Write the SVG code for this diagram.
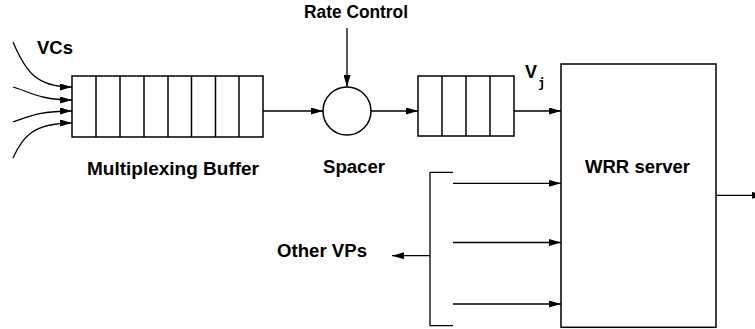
<svg xmlns="http://www.w3.org/2000/svg" width="755" height="329" viewBox="0 0 755 329">
<style>
  .box{fill:#fff;stroke:#000;stroke-width:1.5}
  .div{stroke:#000;stroke-width:1.5}
  .ln{fill:none;stroke:#000;stroke-width:1.3}
  .arr{fill:none;stroke:#000;stroke-width:1.3;marker-end:url(#ah)}
  .lbl{font-family:"Liberation Sans",Arial,Helvetica,sans-serif;font-weight:bold;font-size:18px;fill:#000}
  .sub{font-family:"DejaVu Sans Mono","Liberation Mono",monospace;font-weight:bold;font-size:12px;fill:#000}
</style>
<defs>
  <marker id="ah" markerUnits="userSpaceOnUse" markerWidth="12" markerHeight="7" refX="12" refY="3.5" orient="auto">
    <path d="M0,0 L12,3.5 L0,7 z" fill="#000"/>
  </marker>
</defs>
<rect width="755" height="329" fill="#fff"/>

<g id="connectors">
  <path class="arr" d="M13,42 C25,70 35,87 72,87"/>
  <path class="arr" d="M13,87 C30,92 40,100 72,100"/>
  <path class="arr" d="M13,122 C30,116 40,111 72,111"/>
  <path class="arr" d="M13,158 C22,138 32,123 72,123"/>
  <line class="arr" x1="263" y1="111" x2="323" y2="111"/>
  <line class="arr" x1="347" y1="28" x2="347" y2="87"/>
  <line class="arr" x1="371" y1="111" x2="418" y2="111"/>
  <line class="arr" x1="514" y1="111" x2="561" y2="111"/>
  <polyline class="ln" points="453,172.3 430,172.3 430,325.7 453,325.7"/>
  <line class="arr" x1="453" y1="183.3" x2="561" y2="183.3"/>
  <line class="arr" x1="453" y1="242.5" x2="561" y2="242.5"/>
  <line class="arr" x1="453" y1="304" x2="561" y2="304"/>
  <line class="arr" x1="430" y1="255.7" x2="392" y2="255.7"/>
  <line class="arr" x1="716" y1="195.3" x2="764" y2="195.3"/>
</g>

<g id="vcs-label">
  <text class="lbl" x="37" y="54" textLength="36" lengthAdjust="spacingAndGlyphs">VCs</text>
</g>

<g id="multiplexing-buffer">
  <rect class="box" x="72" y="76" width="191" height="61"/>
  <line class="div" x1="96" y1="76" x2="96" y2="137"/>
  <line class="div" x1="120" y1="76" x2="120" y2="137"/>
  <line class="div" x1="144" y1="76" x2="144" y2="137"/>
  <line class="div" x1="168" y1="76" x2="168" y2="137"/>
  <line class="div" x1="191.5" y1="76" x2="191.5" y2="137"/>
  <line class="div" x1="215.5" y1="76" x2="215.5" y2="137"/>
  <line class="div" x1="239" y1="76" x2="239" y2="137"/>
  <text class="lbl" x="87" y="175" textLength="172" lengthAdjust="spacingAndGlyphs">Multiplexing Buffer</text>
</g>

<g id="rate-control">
  <text class="lbl" x="304" y="18.3" textLength="104" lengthAdjust="spacingAndGlyphs">Rate Control</text>
</g>

<g id="spacer">
  <circle class="box" cx="347" cy="111" r="24"/>
  <text class="lbl" x="323" y="173" textLength="62" lengthAdjust="spacingAndGlyphs">Spacer</text>
</g>

<g id="vp-queue">
  <rect class="box" x="418" y="76" width="96" height="60"/>
  <line class="div" x1="442" y1="76" x2="442" y2="136"/>
  <line class="div" x1="466" y1="76" x2="466" y2="136"/>
  <line class="div" x1="490" y1="76" x2="490" y2="136"/>
  <text class="lbl" x="525" y="77.7">V</text>
  <text class="sub" x="538" y="86.5">j</text>
</g>

<g id="wrr-server">
  <rect class="box" x="561" y="64" width="155" height="263.3"/>
  <text class="lbl" x="585" y="173.3" textLength="105" lengthAdjust="spacingAndGlyphs">WRR server</text>
</g>

<g id="other-vps">
  <text class="lbl" x="277" y="256.7" textLength="90" lengthAdjust="spacingAndGlyphs">Other VPs</text>
</g>
</svg>
